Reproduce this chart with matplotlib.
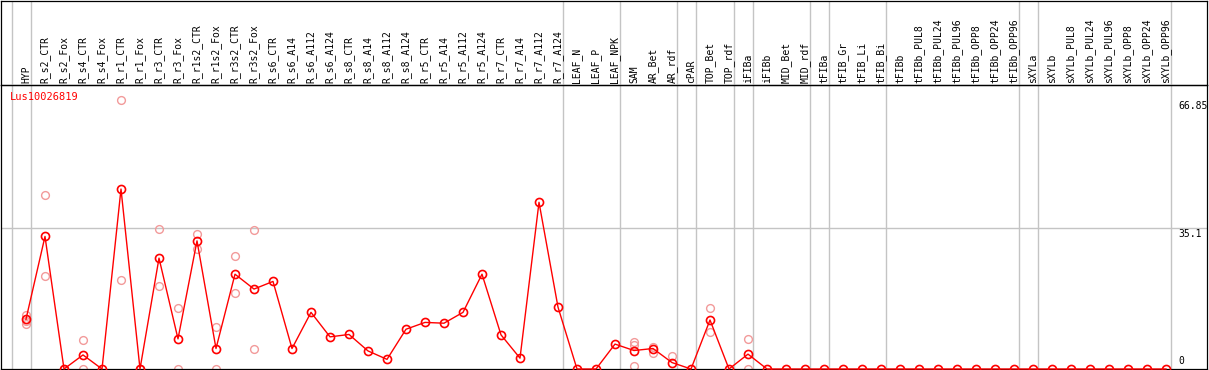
from __future__ import annotations

import matplotlib

matplotlib.use("Agg")
import matplotlib.pyplot as plt
import matplotlib.transforms as mtransforms


GENE_ID = "Lus10026819"

SAMPLES = [
    "HYP",
    "R_s2_CTR", "R_s2_Fox", "R_s4_CTR", "R_s4_Fox", "R_r1_CTR", "R_r1_Fox",
    "R_r3_CTR", "R_r3_Fox", "R_r1s2_CTR", "R_r1s2_Fox", "R_r3s2_CTR", "R_r3s2_Fox",
    "R_s6_CTR", "R_s6_A14", "R_s6_A112", "R_s6_A124",
    "R_s8_CTR", "R_s8_A14", "R_s8_A112", "R_s8_A124",
    "R_r5_CTR", "R_r5_A14", "R_r5_A112", "R_r5_A124",
    "R_r7_CTR", "R_r7_A14", "R_r7_A112", "R_r7_A124",
    "LEAF_N", "LEAF_P", "LEAF_NPK",
    "SAM", "AR_Bet", "AR_rdf",
    "cPAR",
    "TOP_Bet", "TOP_rdf",
    "iFIBa",
    "iFIBb", "MID_Bet", "MID_rdf",
    "tFIBa",
    "tFIB_Gr", "tFIB_Li", "tFIB_Bi",
    "tFIBb", "tFIBb_PUL8", "tFIBb_PUL24", "tFIBb_PUL96",
    "tFIBb_OPP8", "tFIBb_OPP24", "tFIBb_OPP96",
    "sXYLa",
    "sXYLb", "sXYLb_PUL8", "sXYLb_PUL24", "sXYLb_PUL96",
    "sXYLb_OPP8", "sXYLb_OPP24", "sXYLb_OPP96",
]

# number of samples in each separated group, in order
GROUP_SIZES = [1, 28, 3, 3, 1, 2, 1, 3, 1, 3, 7, 1, 7]

MEAN_EXPR = [
    12.4,
    33.0, 0.0, 3.5, 0.0, 44.8, 0.0,
    27.6, 7.5, 31.9, 5.1, 23.6, 19.9,
    21.8, 5.1, 14.1, 8.0,
    8.6, 4.5, 2.4, 9.9,
    11.6, 11.4, 14.1, 23.6,
    8.5, 2.7, 41.5, 15.4,
    0.0, 0.0, 6.2,
    4.6, 5.1, 1.6,
    0.0,
    12.2, 0.0,
    3.7,
    0.0, 0.0, 0.0,
    0.0,
    0.0, 0.0, 0.0,
    0.0, 0.0, 0.0, 0.0, 0.0, 0.0, 0.0,
    0.0,
    0.0, 0.0, 0.0, 0.0, 0.0, 0.0, 0.0,
]

REPLICATES = [
    [13.4, 12.0, 11.2],
    [43.2, 23.1], [0.0, 0.0], [7.1, 0.0], [], [66.85, 22.1], [0.0, 0.0],
    [34.8, 20.6], [15.2, 0.0], [33.6, 29.9], [10.4, 0.0], [28.1, 18.8], [34.5, 5.1],
    [], [], [], [],
    [], [], [], [],
    [], [], [], [],
    [], [], [], [],
    [], [], [],
    [6.8, 6.0, 0.7], [5.5, 4.0], [3.2],
    [],
    [15.1, 9.1], [],
    [7.4, 0.0],
    [], [], [],
    [],
    [], [], [],
    [], [], [], [], [], [], [],
    [],
    [], [], [], [], [], [], [],
]

Y_TICKS = [66.85, 35.1, 0]
GRID_VALUES = [35.1]

RED = "#ff0000"
PINK = "#f29a9a"
GRID = "#c4c4c4"
FONT = "DejaVu Sans Mono"


def draw_frame(fig):
    """Header strip with sample names and the plot area below it."""
    # px layout: frame 1..1207 wide, header 1..85, plot 85..369
    W, H = 1209, 370
    left, width = 1 / W, 1206 / W
    ax = fig.add_axes([left, 1 / H, width, 284 / H])
    hdr = fig.add_axes([left, 285 / H, width, 84 / H], sharex=ax)

    xmin, xmax = (1 - 26) / 19, (1207 - 26) / 19
    ax.set_xlim(xmin, xmax)
    ax.set_ylim(0, 284 / (141 / 35.1))
    hdr.set_ylim(0, 1)

    for a in (ax, hdr):
        a.set_xticks([])
        a.set_yticks([])
        a.patch.set_alpha(0)
        for s in a.spines.values():
            s.set_color("black")
            s.set_linewidth(0.9)
    return ax, hdr


def main():
    fig = plt.figure(figsize=(12.09, 3.70), dpi=100)
    ax, hdr = draw_frame(fig)
    xs = list(range(len(SAMPLES)))

    # group separators
    bounds = [-1]
    for size in GROUP_SIZES:
        bounds.append(bounds[-1] + size)
    for b in bounds:
        for a in (ax, hdr):
            a.axvline(b + 0.24, color=GRID, linewidth=1.0, zorder=0)
    for g in GRID_VALUES:
        ax.axhline(g, color=GRID, linewidth=1.0, zorder=0)

    # sample names
    for x, name in zip(xs, SAMPLES):
        hdr.text(x, 2 / 84, name, rotation=90, ha="center", va="bottom",
                 fontsize=7, family=FONT, color="black")

    # replicate points
    rep_x = [x for x, reps in zip(xs, REPLICATES) for _ in reps]
    rep_y = [v for reps in REPLICATES for v in reps]
    ax.plot(rep_x, rep_y, linestyle="none", marker="o", markersize=5.6,
            markerfacecolor="none", markeredgecolor=PINK, markeredgewidth=1.0,
            clip_on=False, zorder=2)

    ax.plot(xs, MEAN_EXPR, color=RED, linewidth=1.0, marker="o", markersize=5.8,
            markerfacecolor="none", markeredgecolor=RED, markeredgewidth=1.2,
            clip_on=False, zorder=3)

    ax.text(9 / 1206, 1 - 7 / 284, GENE_ID, transform=ax.transAxes,
            ha="left", va="top", fontsize=7.5, family=FONT, color=RED)

    lbl = mtransforms.blended_transform_factory(ax.transAxes, ax.transData)
    for t in Y_TICKS:
        txt = f"{t:g}"
        if t == 0:
            ax.annotate(txt, (1177 / 1206, t), xycoords=lbl, xytext=(0, 3),
                        textcoords="offset pixels", ha="left", va="bottom",
                        fontsize=7, family=FONT)
        else:
            ax.annotate(txt, (1177 / 1206, t), xycoords=lbl, xytext=(0, -1),
                        textcoords="offset pixels", ha="left", va="top",
                        fontsize=7, family=FONT)

    fig.savefig("out.png", dpi=100)
    plt.close(fig)


if __name__ == "__main__":
    main()
